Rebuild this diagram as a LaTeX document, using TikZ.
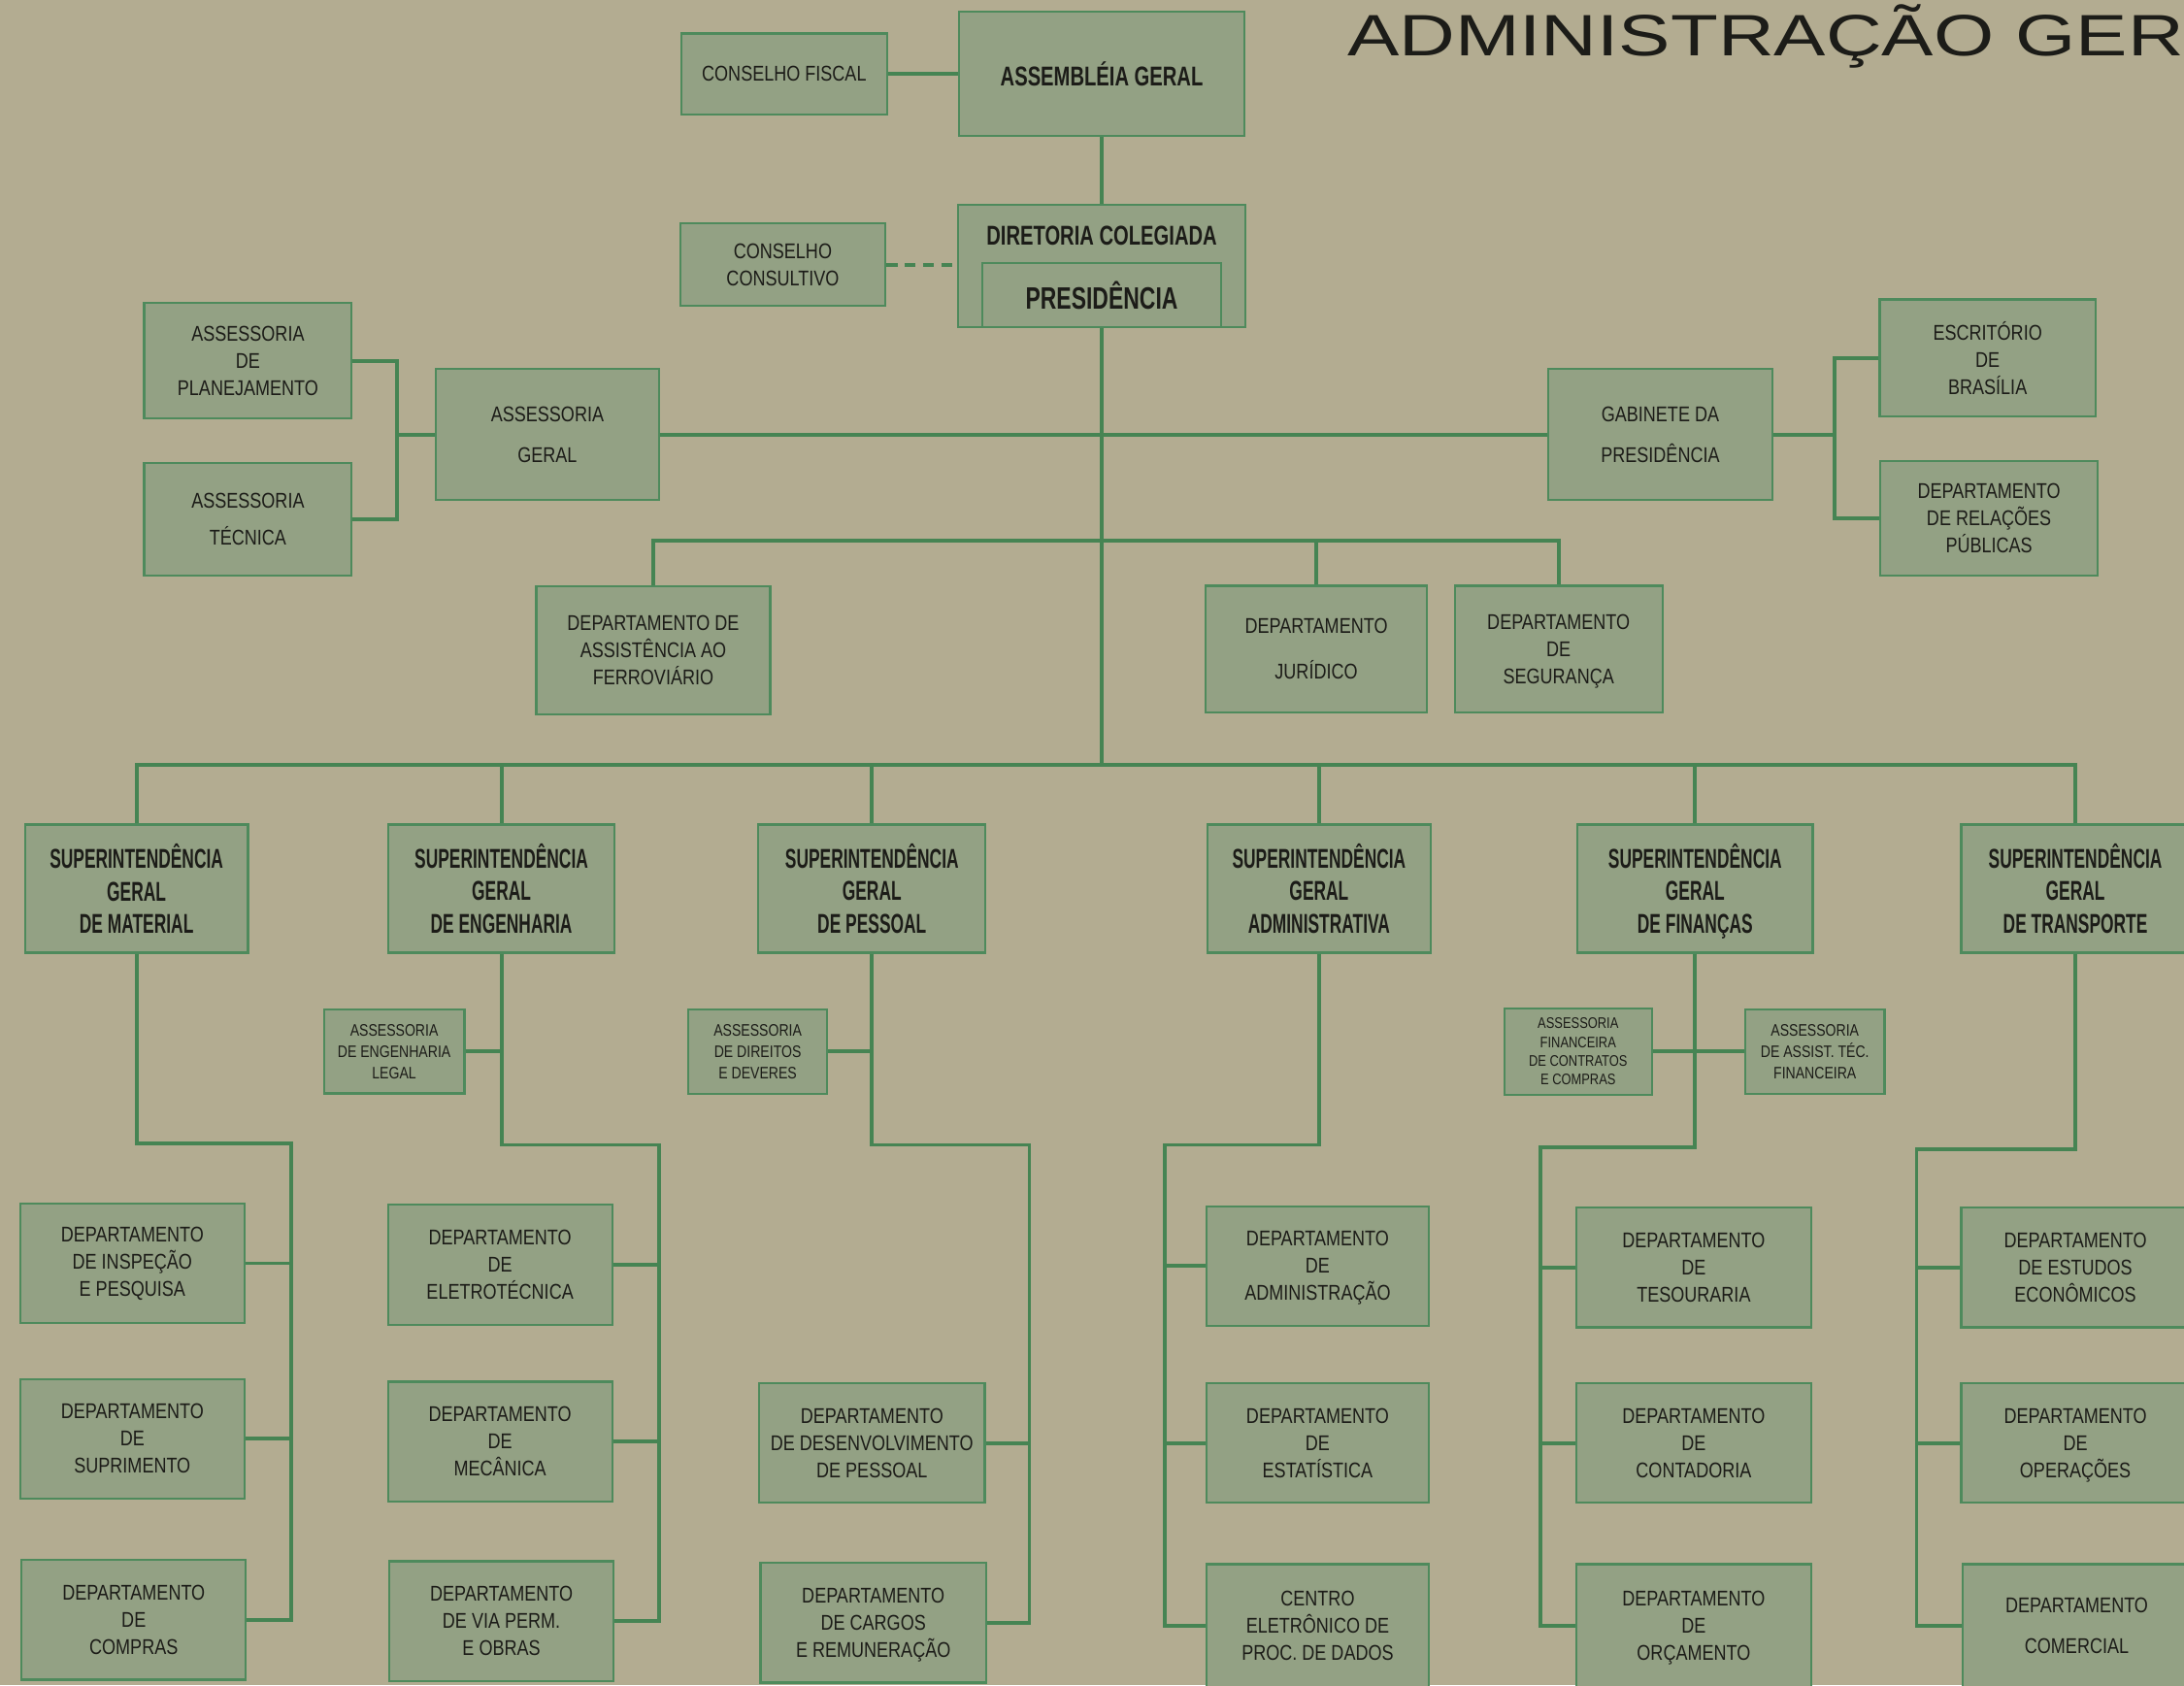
\documentclass[tikz,border=0pt]{standalone}
\usepackage{fontspec}
\usepackage{xcolor}
\usepackage{tikz}
\usetikzlibrary{
    calc,
    positioning
}
\newfontfamily\boxfont[FakeStretch=0.82]{Liberation Sans}
\newfontfamily\headfont[FakeStretch=0.62]{Liberation Sans}
\newfontfamily\chieffont[FakeStretch=0.72]{Liberation Sans}
\newfontfamily\titlefont[FakeStretch=1.33]{Liberation Sans}
\definecolor{paper}{HTML}{B3AC91}
\definecolor{boxfill}{HTML}{93A184}
\definecolor{boxline}{HTML}{4E8A5C}
\definecolor{linegreen}{HTML}{468453}
\definecolor{ink}{HTML}{1C1C18}

\begin{document}
\begin{tikzpicture}[x=0.025cm, y=-0.025cm,
    box/.style={draw=boxline, line width=1.1pt, fill=boxfill, text=ink, align=center, inner sep=1pt,
        font=\boxfont\fontsize{10.9}{13.9}\selectfont},
    boss/.style={box, font=\headfont\bfseries\fontsize{13.9}{16.7}\selectfont},
    chief/.style={text=ink, inner sep=0pt, font=\chieffont\bfseries\fontsize{13.9}{16.7}\selectfont},
    mini/.style={box, font=\boxfont\fontsize{8.5}{11}\selectfont},
    wh/.style 2 args={minimum width=#1*0.025cm, minimum height=#2*0.025cm},
    link/.style={draw=linegreen, line width=1.9pt}]
                        \useasboundingbox (0,0) rectangle (1568,1210);
                        \fill[paper] (0,0) rectangle (1568,1210);
                        \clip (0,0) rectangle (1568,1210);

                        \node[anchor=base west, inner sep=0pt, text=ink, font=\titlefont\fontsize{29.8}{30}\selectfont] (ttl) at (967,40) {ADMINISTRAÇÃO GER};

                        % cupula
                        \node[box, wh={148}{58}] (cf) at (563,53) {CONSELHO FISCAL};
                        \node[box, wh={205}{89}, chief] (ag) at (791,53) {ASSEMBLÉIA GERAL};
                        \node[box, wh={147}{59}] (cc) at (562,190) {CONSELHO\\CONSULTIVO};
                        \node[box, wh={206}{88}] (dc) at (791,191) {};
                        \node[chief] (dct) at (791,169) {DIRETORIA COLEGIADA};
                        \node[box, wh={171}{46}, chief, font=\chieffont\bfseries\fontsize{15.8}{18}\selectfont] (pr) at (791,212) {PRESIDÊNCIA};

                        % orgaos da presidencia
                        \node[box, wh={149}{83}] (plan) at (178,259) {ASSESSORIA\\DE\\PLANEJAMENTO};
                        \node[box, wh={149}{81}] (tec) at (178,373) {ASSESSORIA\\[5pt]TÉCNICA};
                        \node[box, wh={160}{94}] (asg) at (393,312) {ASSESSORIA\\[7pt]GERAL};
                        \node[box, wh={161}{94}] (gab) at (1192,312) {GABINETE DA\\[7pt]PRESIDÊNCIA};
                        \node[box, wh={155}{84}] (esc) at (1427,257) {ESCRITÓRIO\\DE\\BRASÍLIA};
                        \node[box, wh={156}{82}] (rel) at (1428,372) {DEPARTAMENTO\\DE RELAÇÕES\\PÚBLICAS};
                        \node[box, wh={168}{92}] (fer) at (469,467) {DEPARTAMENTO DE\\ASSISTÊNCIA AO\\FERROVIÁRIO};
                        \node[box, wh={159}{91}] (jur) at (945,466) {DEPARTAMENTO\\[9.5pt]JURÍDICO};
                        \node[box, wh={149}{91}] (seg) at (1119,466) {DEPARTAMENTO\\DE\\SEGURAN\smash{Ç}A};

                        % superintendencias
                        \node[boss, wh={160}{92}] (sm) at (98,638) {SUPERINTENDÊNCIA\\GERAL\\DE MATERIAL};
                        \node[boss, wh={162}{92}] (se) at (360,638) {SUPERINTENDÊNCIA\\GERAL\\DE ENGENHARIA};
                        \node[boss, wh={163}{92}] (sp) at (626,638) {SUPERINTENDÊNCIA\\GERAL\\DE PESSOAL};
                        \node[boss, wh={160}{92}] (sa) at (947,638) {SUPERINTENDÊNCIA\\GERAL\\ADMINISTRATIVA};
                        \node[boss, wh={169}{92}] (sf) at (1217,638) {SUPERINTENDÊNCIA\\GERAL\\DE FINAN\smash{Ç}AS};
                        \node[boss, wh={164}{92}] (st) at (1490,638) {SUPERINTENDÊNCIA\\GERAL\\DE TRANSPORTE};

                        \node[mini, wh={101}{60}] (ae) at (283,755) {ASSESSORIA\\DE ENGENHARIA\\LEGAL};
                        \node[mini, wh={100}{61}] (ad) at (544,755) {ASSESSORIA\\DE DIREITOS\\E DEVERES};
                        \node[mini, wh={106}{62}, font=\boxfont\fontsize{7.8}{9.6}\selectfont] (af) at (1133,755) {ASSESSORIA\\FINANCEIRA\\DE CONTRATOS\\E COMPRAS};
                        \node[mini, wh={100}{61}] (ab) at (1303,755) {ASSESSORIA\\DE ASSIST. TÉC.\\FINANCEIRA};

                        % departamentos
                        \node[box, wh={161}{86}] (d11) at (95,907) {DEPARTAMENTO\\DE INSPEÇÃO\\E PESQUISA};
                        \node[box, wh={161}{86}] (d12) at (95,1033) {DEPARTAMENTO\\DE\\SUPRIMENTO};
                        \node[box, wh={161}{86}] (d13) at (96,1163) {DEPARTAMENTO\\DE\\COMPRAS};
                        \node[box, wh={161}{86}] (d21) at (359,908) {DEPARTAMENTO\\DE\\ELETROTÉCNICA};
                        \node[box, wh={161}{86}] (d22) at (359,1035) {DEPARTAMENTO\\DE\\MECÂNICA};
                        \node[box, wh={161}{86}] (d23) at (360,1164) {DEPARTAMENTO\\DE VIA PERM.\\E OBRAS};
                        \node[box, wh={162}{86}] (d31) at (626,1036) {DEPARTAMENTO\\DE DESENVOLVIMENTO\\DE PESSOAL};
                        \node[box, wh={162}{86}] (d32) at (627,1165) {DEPARTAMENTO\\DE CARGOS\\E REMUNERA\smash{Ç}ÃO};
                        \node[box, wh={160}{86}] (d41) at (946,909) {DEPARTAMENTO\\DE\\ADMINISTRA\smash{Ç}ÃO};
                        \node[box, wh={160}{86}] (d42) at (946,1036) {DEPARTAMENTO\\DE\\ESTATÍSTICA};
                        \node[box, wh={160}{88}] (d43) at (946,1167) {CENTRO\\ELETRÔNICO DE\\PROC. DE DADOS};
                        \node[box, wh={169}{86}] (d51) at (1216,910) {DEPARTAMENTO\\DE\\TESOURARIA};
                        \node[box, wh={169}{86}] (d52) at (1216,1036) {DEPARTAMENTO\\DE\\CONTADORIA};
                        \node[box, wh={169}{88}] (d53) at (1216,1167) {DEPARTAMENTO\\DE\\OR\smash{Ç}AMENTO};
                        \node[box, wh={164}{86}] (d61) at (1490,910) {DEPARTAMENTO\\DE ESTUDOS\\ECONÔMICOS};
                        \node[box, wh={164}{86}] (d62) at (1490,1036) {DEPARTAMENTO\\DE\\OPERA\smash{Ç}ÕES};
                        \node[box, wh={164}{88}] (d63) at (1491,1167) {DEPARTAMENTO\\[7pt]COMERCIAL};

                        % pontos de ligacao
                        \coordinate (bus) at (791,549);
                        \coordinate (b2) at (791,388);
                        \coordinate (bl) at (285,312);
                        \coordinate (br) at (1317,312);
                        \coordinate (t1) at (209,821);
                        \coordinate (t2) at (473,822);
                        \coordinate (t3) at (739,822);
                        \coordinate (t4) at (836,822);
                        \coordinate (t5) at (1106,824);
                        \coordinate (t6) at (1376,825);

                        \draw[link]
                        (cf) -- (ag)
                        (ag) -- (dc)
                        (dc.south) -- (bus)
                        (asg) -- (gab)
                        (plan.east) -| (bl) |- (tec.east)
                        (bl) -- (asg.west)
                        (esc.west) -| (br) |- (rel.west)
                        (br) -- (gab.east)
                        (b2) -| (fer.north)
                        (b2) -| (jur.north)
                        (b2) -| (seg.north)
                        (bus) -| (sm.north)
                        (bus) -| (se.north)
                        (bus) -| (sp.north)
                        (bus) -| (sa.north)
                        (bus) -| (sf.north)
                        (bus) -| (st.north)
                        (ae.east) -- (ae.east -| se.south)
                        (ad.east) -- (ad.east -| sp.south)
                        (af) -- (ab)
                        (sm.south) |- (t1) |- (d13.east)
                        (d11.east) -- (d11.east -| t1)
                        (d12.east) -- (d12.east -| t1)
                        (se.south) |- (t2) |- (d23.east)
                        (d21.east) -- (d21.east -| t2)
                        (d22.east) -- (d22.east -| t2)
                        (sp.south) |- (t3) |- (d32.east)
                        (d31.east) -- (d31.east -| t3)
                        (sa.south) |- (t4) |- (d43.west)
                        (d41.west) -- (d41.west -| t4)
                        (d42.west) -- (d42.west -| t4)
                        (sf.south) |- (t5) |- (d53.west)
                        (d51.west) -- (d51.west -| t5)
                        (d52.west) -- (d52.west -| t5)
                        (st.south) |- (t6) |- (d63.west)
                        (d61.west) -- (d61.west -| t6)
                        (d62.west) -- (d62.west -| t6);
                        \draw[link, dash pattern=on 2mm off 1.3mm] (cc.east) -- (cc.east -| dc.west);
                    \end{tikzpicture}
\end{document}
